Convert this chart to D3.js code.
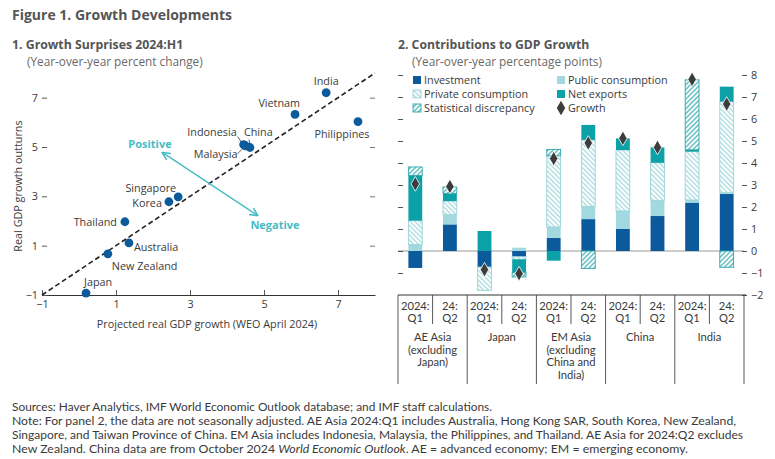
<!DOCTYPE html>
<html><head><meta charset="utf-8">
<script src="https://cdn.jsdelivr.net/npm/d3@7"></script>
<style>
body{margin:0;background:#fff}
svg{display:block}
text{font-family:"Open Sans",Lato,sans-serif}
text.cat, text.note{font-family:Lato,"Open Sans",sans-serif}
</style>
</head><body><svg id="c" width="775" height="459"></svg>
<script>
// ---------- Panel 1 data ----------
const countries = ["India","Vietnam","Philippines","Indonesia","Malaysia","China","Singapore","Korea","Thailand","Australia","New Zealand","Japan"];
const projected = [6.68,5.84,7.54,4.45,4.5,4.62,2.68,2.43,1.24,1.35,0.78,0.19];
const outturn   = [7.2,6.32,6.03,5.1,5.05,4.98,2.98,2.78,1.97,1.11,0.67,-0.92];
const scatterTicks = [-1,1,3,5,7];

// ---------- Panel 2 data ----------
const barKeys = ["AE Q1","AE Q2","JP Q1","JP Q2","EM Q1","EM Q2","CN Q1","CN Q2","IN Q1","IN Q2"];
const quarterTop = ["2024:","24:","2024:","24:","2024:","24:","2024:","24:","2024:","24:"];
const quarterBottom = ["Q1","Q2","Q1","Q2","Q1","Q2","Q1","Q2","Q1","Q2"];
const groupLabels = [["AE Asia","(excluding","Japan)"],["Japan"],["EM Asia","(excluding","China and","India)"],["China"],["India"]];
const seriesNames = ["Investment","Public consumption","Private consumption","Net exports","Statistical discrepancy"];
const investment  = [-0.77,1.21,-0.73,-0.26,0.59,1.45,1.00,1.59,2.20,2.59];
const publicCons  = [0.29,0.44,0.00,0.15,0.50,0.58,0.82,0.71,0.12,0.06];
const privateCons = [1.09,0.62,-1.06,-0.12,3.24,3.02,2.77,1.71,2.20,4.14];
const netExports  = [2.05,0.35,0.91,-0.60,-0.44,0.68,0.53,0.70,0.08,0.68];
const statDisc    = [0.39,0.29,0.00,-0.20,0.29,-0.79,0.00,0.00,3.18,-0.74];
const growth      = [3.05,2.93,-0.85,-1.03,4.20,4.91,5.12,4.71,7.80,6.68];
const barTicks = [-2,-1,0,1,2,3,4,5,6,7,8];

// ---------- styles / layout ----------
const C = {blue:"#0b5b9c", pub:"#a2d9e0", privLine:"#98d3d9", nx:"#0ca1a7", sdLine:"#2fa6ab",
           dot:"#0b5b9c", teal:"#46bcc4", txt:"#3a3a3a", title:"#555555", sub:"#6a6a6a", axis:"#333"};
const FS = 10.8;
const labelPos = { // dx, dy, anchor
  "India":[0,-8,"middle"], "Vietnam":[5,-7,"end"], "Philippines":[-16,16,"middle"],
  "Indonesia":[-7,-9,"end"], "China":[-6,-11,"start"], "Malaysia":[-8,12,"end"],
  "Singapore":[-2,-5,"end"], "Korea":[-7,5,"end"], "Thailand":[-8,4,"end"],
  "Australia":[5,8,"start"], "New Zealand":[4,16,"start"], "Japan":[-2,-7,"start"]};
const leaders = {"Indonesia":[[-6,-8],[-2,-2]], "China":[[-1,-8],[0,-3]], "Malaysia":[[-8,8],[-3,3]]};

const svg = d3.select("#c");
const defs = svg.append("defs");
function hatch(id, color, angle){
  const p = defs.append("pattern").attr("id",id).attr("patternUnits","userSpaceOnUse")
    .attr("width",3.4).attr("height",3.4).attr("patternTransform",`rotate(${angle})`);
  p.append("rect").attr("width",3.4).attr("height",3.4).attr("fill","#fff");
  p.append("line").attr("x1",0.8).attr("y1",0).attr("x2",0.8).attr("y2",3.4)
    .attr("stroke",color).attr("stroke-width",1.1);
}
hatch("hPriv", C.privLine, -45);
hatch("hSD", C.sdLine, 45);
const fills = ["#0b5b9c", C.pub, "url(#hPriv)", C.nx, "url(#hSD)"];
const strokes = [null, null, C.privLine, null, C.sdLine];

// ---------- Titles ----------
svg.append("text").attr("x",12).attr("y",20).attr("font-size",14).attr("font-weight",700)
  .attr("fill",C.title).text("Figure 1. Growth Developments");
svg.append("text").attr("x",12).attr("y",49).attr("font-size",12.3).attr("font-weight",700)
  .attr("fill",C.title).text("1. Growth Surprises 2024:H1");
svg.append("text").attr("x",27).attr("y",65.8).attr("font-size",11.8).attr("fill",C.sub)
  .text("(Year-over-year percent change)");
svg.append("text").attr("x",398).attr("y",49).attr("font-size",12.2).attr("font-weight",700)
  .attr("fill",C.title).text("2. Contributions to GDP Growth");
svg.append("text").attr("x",412).attr("y",65.8).attr("font-size",11.8).attr("fill",C.sub)
  .text("(Year-over-year percentage points)");

// ---------- Panel 1 ----------
const x = d3.scaleLinear().domain([-1,8]).range([42,375]);
const y = d3.scaleLinear().domain([-1,8]).range([295,73]);
const g1 = svg.append("g");

const ax = g1.append("g").attr("transform",`translate(0,${y(-1)})`)
  .call(d3.axisBottom(x).tickValues(scatterTicks).tickSizeInner(-5).tickSizeOuter(0).tickPadding(5));
ax.select(".domain").attr("stroke",C.axis);
ax.selectAll(".tick line").attr("stroke","#555");
ax.selectAll("text").attr("font-size",FS).attr("fill",C.txt);

const ay = g1.append("g").attr("transform",`translate(${x(-1)},0)`)
  .call(d3.axisLeft(y).tickValues(scatterTicks).tickSizeInner(-5).tickSizeOuter(0).tickPadding(4));
ay.select(".domain").remove();
ay.selectAll(".tick line").attr("stroke","#555");
ay.selectAll("text").attr("font-size",FS).attr("fill",C.txt);

const ayr = g1.append("g").attr("transform",`translate(${x(8)-5},0)`)
  .call(d3.axisRight(y).tickValues(scatterTicks.slice(1)).tickSize(5).tickFormat(""));
ayr.select(".domain").remove();
ayr.selectAll(".tick line").attr("stroke","#777");

g1.append("text").attr("transform",`translate(22,${(y(-1)+y(8))/2+2}) rotate(-90)`)
  .attr("text-anchor","middle").attr("font-size",FS).attr("fill",C.txt).text("Real GDP growth outturns");
g1.append("text").attr("x",207).attr("y",328).attr("text-anchor","middle").attr("font-size",FS)
  .attr("fill",C.txt).text("Projected real GDP growth (WEO April  2024)");

// 45-degree line
g1.append("line").attr("x1",x(-1)).attr("y1",y(-1)).attr("x2",x(8)).attr("y2",y(8))
  .attr("stroke","#222").attr("stroke-width",1.6).attr("stroke-dasharray","5,3");

// arrow
const mk = defs.append("marker").attr("id","arr").attr("viewBox","0 0 10 10").attr("refX",8).attr("refY",5)
  .attr("markerWidth",7).attr("markerHeight",7).attr("orient","auto-start-reverse");
mk.append("path").attr("d","M1,1 L9,5 L1,9").attr("fill","none").attr("stroke",C.teal).attr("stroke-width",1.6);
g1.append("line").attr("x1",x(2.27)).attr("y1",y(4.76)).attr("x2",x(4.81)).attr("y2",y(2.24))
  .attr("stroke",C.teal).attr("stroke-width",1.4)
  .attr("marker-start","url(#arr)").attr("marker-end","url(#arr)");
g1.append("text").attr("x",150).attr("y",148).attr("text-anchor","middle").attr("font-size",11)
  .attr("font-weight",700).attr("fill",C.teal).text("Positive");
g1.append("text").attr("x",275).attr("y",229).attr("text-anchor","middle").attr("font-size",11)
  .attr("font-weight",700).attr("fill",C.teal).text("Negative");

// leaders
countries.forEach((c,i)=>{
  if(leaders[c]){
    const [a,b] = leaders[c];
    g1.append("line").attr("x1",x(projected[i])+a[0]).attr("y1",y(outturn[i])+a[1])
      .attr("x2",x(projected[i])+b[0]).attr("y2",y(outturn[i])+b[1]).attr("stroke","#333").attr("stroke-width",0.8);
  }
});
g1.selectAll("circle.pt").data(countries).join("circle").attr("class","pt")
  .attr("cx",(d,i)=>x(projected[i])).attr("cy",(d,i)=>y(outturn[i])).attr("r",4.4).attr("fill",C.dot);
g1.selectAll("text.lab").data(countries).join("text").attr("class","lab")
  .attr("x",(d,i)=>x(projected[i])+labelPos[d][0]).attr("y",(d,i)=>y(outturn[i])+labelPos[d][1])
  .attr("text-anchor",d=>labelPos[d][2]).attr("font-size",FS).attr("fill",C.txt).text(d=>d);

// ---------- Panel 2 ----------
const xb = d3.scaleBand().domain(barKeys).range([398,744]).paddingInner(0.6).paddingOuter(0.3);
const yb = d3.scaleLinear().domain([-2,8]).range([295,75]);
const g2 = svg.append("g");
const step = xb.step(), left0 = 398;

g2.append("line").attr("x1",398).attr("x2",744).attr("y1",yb(0)).attr("y2",yb(0)).attr("stroke","#9a9a9a").attr("stroke-width",1);

const ar = g2.append("g").attr("transform",`translate(742,0)`)
  .call(d3.axisRight(yb).tickValues(barTicks).tickSize(5).tickPadding(4));
ar.select(".domain").remove();
ar.selectAll(".tick line").attr("stroke","#555");
ar.selectAll("text").attr("font-size",FS).attr("fill",C.txt);
const al = g2.append("g").attr("transform",`translate(398,0)`)
  .call(d3.axisRight(yb).tickValues(barTicks.slice(1)).tickSize(5).tickFormat(""));
al.select(".domain").remove();
al.selectAll(".tick line").attr("stroke","#555");

const table = barKeys.map((k,i)=>({key:k, "Investment":investment[i], "Public consumption":publicCons[i],
  "Private consumption":privateCons[i], "Net exports":netExports[i], "Statistical discrepancy":statDisc[i]}));
const stacked = d3.stack().keys(seriesNames).offset(d3.stackOffsetDiverging)(table);
stacked.forEach((s,si)=>{
  g2.append("g").selectAll("rect").data(s.filter(d=>Math.abs(d[1]-d[0])>0.001)).join("rect")
    .attr("x",d=>xb(d.data.key)).attr("width",xb.bandwidth())
    .attr("y",d=>yb(Math.max(d[0],d[1]))).attr("height",d=>Math.abs(yb(d[0])-yb(d[1])))
    .attr("fill",fills[si])
    .attr("stroke",strokes[si]||"none").attr("stroke-width",strokes[si]?0.9:0);
});
g2.selectAll("path.gr").data(barKeys).join("path").attr("class","gr")
  .attr("transform",(d,i)=>`translate(${xb(d)+xb.bandwidth()/2},${yb(growth[i])})`)
  .attr("d",d3.symbol(d3.symbolDiamond,62)).attr("fill","#3c3c3c").attr("stroke","#fff").attr("stroke-width",0.8);

g2.append("line").attr("x1",398).attr("x2",746).attr("y1",295).attr("y2",295).attr("stroke",C.axis).attr("stroke-width",1);
const CAT_FS = 11.2;
barKeys.forEach((k,i)=>{
  const bx = xb(k) + xb.bandwidth()/2;
  g2.append("text").attr("class","cat").attr("x",bx).attr("y",310).attr("text-anchor","middle").attr("font-size",CAT_FS).attr("fill",C.txt).text(quarterTop[i]);
  g2.append("text").attr("class","cat").attr("x",bx).attr("y",322).attr("text-anchor","middle").attr("font-size",CAT_FS).attr("fill",C.txt).text(quarterBottom[i]);
});
for(let j=0;j<=barKeys.length;j++){
  const lx = left0 + j*step;
  g2.append("line").attr("x1",lx).attr("x2",lx).attr("y1",295).attr("y2", j%2===0 ? 384 : 324)
    .attr("stroke","#444").attr("stroke-width",0.9);
}
groupLabels.forEach((lines,gi)=>{
  const cx = left0 + (gi*2+1)*step;
  lines.forEach((t,li)=>{
    g2.append("text").attr("class","cat").attr("x",cx).attr("y",341+li*12.7).attr("text-anchor","middle")
      .attr("font-size",CAT_FS).attr("fill",C.txt).text(t);
  });
});

const legItems = [
  {name:"Investment", col:0,row:0, si:0},
  {name:"Private consumption", col:0,row:1, si:2},
  {name:"Statistical discrepancy", col:0,row:2, si:4},
  {name:"Public consumption", col:1,row:0, si:1},
  {name:"Net exports", col:1,row:1, si:3},
  {name:"Growth", col:1,row:2, si:-1}];
const legX = [413,557], legY = 80, legDY = 14;
legItems.forEach(it=>{
  const lx = legX[it.col], ly = legY + it.row*legDY;
  if(it.si>=0){
    g2.append("rect").attr("x",lx).attr("y",ly-4).attr("width",8).attr("height",8).attr("fill",fills[it.si])
      .attr("stroke",strokes[it.si]||"none").attr("stroke-width",strokes[it.si]?0.9:0);
  } else {
    g2.append("path").attr("transform",`translate(${lx+4},${ly})`).attr("d",d3.symbol(d3.symbolDiamond,62)).attr("fill","#3c3c3c");
  }
  g2.append("text").attr("x",lx+11).attr("y",ly+4).attr("font-size",10.8).attr("fill",C.txt).text(it.name);
});

const notes = [
  {y:411, w:480, parts:[["Sources: Haver Analytics, IMF World Economic Outlook database; and IMF staff calculations.",false]]},
  {y:425, w:724, parts:[["Note: For panel 2, the data are not seasonally adjusted. AE Asia 2024:Q1 includes Australia, Hong Kong SAR, South Korea, New Zealand,",false]]},
  {y:439, w:731, parts:[["Singapore, and Taiwan Province of China. EM Asia includes Indonesia, Malaysia, the Philippines, and Thailand. AE Asia for 2024:Q2 excludes",false]]},
  {y:453, w:676, parts:[["New Zealand. China data are from October 2024 ",false],["World Economic Outlook",true],[". AE = advanced economy; EM = emerging economy.",false]]}
];
notes.forEach(n=>{
  const t = svg.append("text").attr("class","note").attr("x",12).attr("y",n.y).attr("font-size",11).attr("fill",C.txt)
    .attr("textLength",n.w).attr("lengthAdjust","spacingAndGlyphs");
  n.parts.forEach(p=>t.append("tspan").attr("font-style",p[1]?"italic":null).text(p[0]));
});
</script>
</body></html>
